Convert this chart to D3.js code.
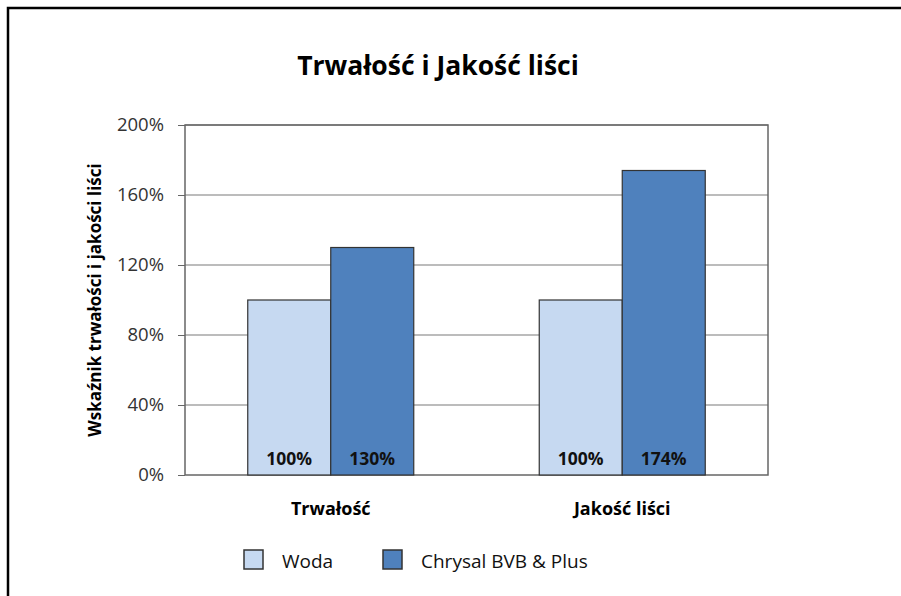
<!DOCTYPE html>
<html>
<head>
<meta charset="utf-8">
<script src="https://cdn.jsdelivr.net/npm/d3@7"></script>
<style>
  body { margin: 0; background: #fff; }
  text { font-family: "Open Sans", sans-serif; }
</style>
</head>
<body>
<script>
var categories = ["Trwałość", "Jakość liści"];
var seriesNames = ["Woda", "Chrysal BVB & Plus"];
var wodaValues = [1.00, 1.00];
var chrysalValues = [1.30, 1.74];
var yTicks = [0, 0.4, 0.8, 1.2, 1.6, 2.0];
var colors = ["#c6d9f1", "#4f81bd"];

var width = 901,
  height = 596;

var plot = {left: 185, right: 768, top: 125, bottom: 475};

var scaleY = d3.scaleLinear()
                .domain([0, 2])
                .range([plot.bottom, plot.top]);

var scaleX = d3.scaleBand()
                .domain(categories)
                .range([plot.left, plot.right])
                .paddingInner(0)
                .paddingOuter(0);

var scaleS = d3.scaleBand()
                .domain(seriesNames)
                .range([0, 166]);

function drawFrame(svg) {
  svg.append("rect")
     .attr("x", 8)
     .attr("y", 8)
     .attr("width", 900)
     .attr("height", 600)
     .attr("fill", "none")
     .style("stroke", "#000")
     .style("stroke-width", 2.5);

  svg.append("text")
     .attr("x", 438)
     .attr("y", 75)
     .attr("text-anchor", "middle")
     .style("font-size", "26.5px")
     .style("font-weight", "bold")
     .text("Trwałość i Jakość liści");
}

function drawAxes(svg) {
  var grid = svg.append("g");
  grid.selectAll("line")
      .data(yTicks.slice(1))
      .enter()
      .append("line")
      .attr("x1", plot.left)
      .attr("x2", plot.right)
      .attr("y1", function(d) { return scaleY(d); })
      .attr("y2", function(d) { return scaleY(d); })
      .style("stroke", "#a6a6a6")
      .style("stroke-width", 1.3);

  var yAxis = d3.axisLeft(scaleY)
                .tickValues(yTicks)
                .tickSize(7)
                .tickPadding(14)
                .tickFormat(d3.format(".0%"));

  var gy = svg.append("g")
              .attr("transform", "translate(" + plot.left + ",0)")
              .call(yAxis);
  gy.select(".domain").remove();
  gy.selectAll(".tick line").style("stroke", "#666");
  gy.selectAll(".tick text")
    .style("font-size", "18.5px")
    .style("fill", "#333")
    .style("font-family", "'Open Sans', sans-serif");

  // plot border
  svg.append("rect")
     .attr("x", plot.left)
     .attr("y", plot.top)
     .attr("width", plot.right - plot.left)
     .attr("height", plot.bottom - plot.top)
     .attr("fill", "none")
     .style("stroke", "#666")
     .style("stroke-width", 1.5);

  svg.selectAll(".catlabel")
     .data(categories)
     .enter()
     .append("text")
     .attr("class", "catlabel")
     .attr("x", function(d) { return scaleX(d) + scaleX.bandwidth() / 2; })
     .attr("y", 515)
     .attr("text-anchor", "middle")
     .style("font-size", "18px")
     .style("font-weight", "bold")
     .text(function(d) { return d; });

  svg.append("text")
     .attr("transform", "translate(101," + (plot.top + plot.bottom) / 2 + ") rotate(-90)")
     .attr("text-anchor", "middle")
     .style("font-size", "17px")
     .style("font-weight", "bold")
     .text("Wskaźnik trwałości i jakości liści");
}

function drawBars(svg) {
  var seriesData = [wodaValues, chrysalValues];
  seriesData.forEach(function(values, s) {
    var g = svg.append("g");
    var offset = scaleX.bandwidth() / 2 - 83;
    g.selectAll("rect")
     .data(values)
     .enter()
     .append("rect")
     .attr("x", function(d, i) { return scaleX(categories[i]) + offset + scaleS(seriesNames[s]); })
     .attr("y", function(d) { return scaleY(d); })
     .attr("width", scaleS.bandwidth())
     .attr("height", function(d) { return scaleY(0) - scaleY(d); })
     .style("fill", colors[s])
     .style("stroke", "#333")
     .style("stroke-width", 1.2);

    g.selectAll("text")
     .data(values)
     .enter()
     .append("text")
     .attr("x", function(d, i) { return scaleX(categories[i]) + offset + scaleS(seriesNames[s]) + scaleS.bandwidth() / 2; })
     .attr("y", 465)
     .attr("text-anchor", "middle")
     .style("font-size", "17.5px")
     .style("font-weight", "bold")
     .style("fill", "#111")
     .text(function(d) { return Math.round(d * 100) + "%"; });
  });
}

function drawLegend(svg) {
  var legendX = [244, 383];
  var lg = svg.selectAll(".legend")
              .data(seriesNames)
              .enter()
              .append("g")
              .attr("class", "legend")
              .attr("transform", function(d, i) { return "translate(" + legendX[i] + ",550)"; });

  lg.append("rect")
    .attr("width", 19)
    .attr("height", 19)
    .style("fill", function(d, i) { return colors[i]; })
    .style("stroke", "#333")
    .style("stroke-width", 1.5);

  lg.append("text")
    .attr("x", 38)
    .attr("y", 18)
    .style("font-size", "19px")
    .style("fill", "#111")
    .text(function(d) { return d; });
}

window.onload = function() {
  var svg = d3.select("body").append("svg")
              .attr("width", width)
              .attr("height", height);
  drawFrame(svg);
  drawAxes(svg);
  drawBars(svg);
  drawLegend(svg);
};
</script>
</body>
</html>
